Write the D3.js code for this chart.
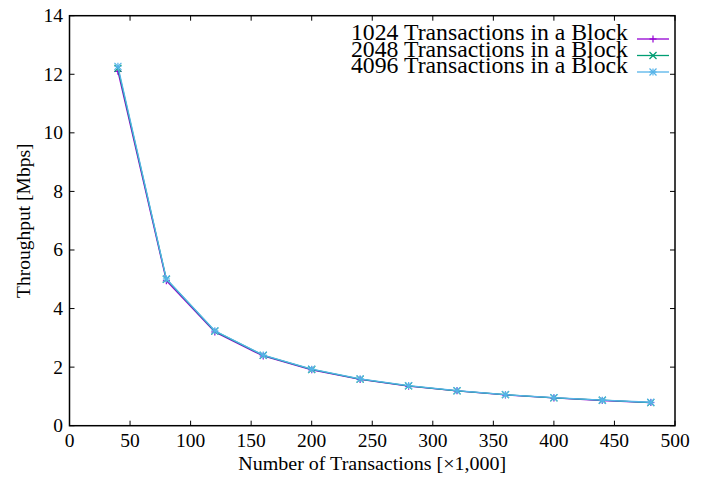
<!DOCTYPE html>
<html>
<head>
<meta charset="utf-8">
<script src="https://cdn.jsdelivr.net/npm/d3@7"></script>
<style>
  html, body { margin: 0; padding: 0; background: #fff; }
  svg { display: block; }
</style>
</head>
<body>
<svg id="chart" width="707" height="477"></svg>
<script>
// Throughput versus number of transactions, one series per block size
const txCounts = [40, 80, 120, 160, 200, 240, 280, 320, 360, 400, 440, 480];
const tput1024 = [12.10, 4.95, 3.20, 2.38, 1.91, 1.58, 1.35, 1.19, 1.05, 0.95, 0.86, 0.79];
const tput2048 = [12.20, 5.00, 3.23, 2.40, 1.92, 1.59, 1.36, 1.19, 1.06, 0.95, 0.87, 0.79];
const tput4096 = [12.27, 5.01, 3.24, 2.41, 1.93, 1.60, 1.37, 1.20, 1.06, 0.96, 0.87, 0.80];
const seriesNames = ["1024 Transactions in a Block", "2048 Transactions in a Block", "4096 Transactions in a Block"];
const seriesColors = ["#9400d3", "#009e73", "#56b4e9"];
const xTicks = [0, 50, 100, 150, 200, 250, 300, 350, 400, 450, 500];
const yTicks = [0, 2, 4, 6, 8, 10, 12, 14];

const series = [tput1024, tput2048, tput4096].map((vals, i) => ({
  name: seriesNames[i], color: seriesColors[i], marker: i,
  points: txCounts.map((x, j) => ({ x, y: vals[j] }))
}));

const FONT = "'Liberation Serif', 'DejaVu Serif', serif";
const plotL = 69.5, plotR = 675, plotT = 15.7, plotB = 425.7;
const svg = d3.select("#chart").attr("font-family", FONT);
const x = d3.scaleLinear().domain([0, 500]).range([plotL, plotR]);
const y = d3.scaleLinear().domain([0, 14]).range([plotB, plotT]);

// inward ticks on all four sides
const tickLen = 5;
const g = svg.append("g");
g.selectAll(".xt").data(xTicks).join("g").each(function(d) {
  const s = d3.select(this);
  s.append("line").attr("x1", x(d)).attr("x2", x(d)).attr("y1", plotB).attr("y2", plotB - tickLen).attr("stroke", "#000");
  s.append("line").attr("x1", x(d)).attr("x2", x(d)).attr("y1", plotT).attr("y2", plotT + tickLen).attr("stroke", "#000");
  s.append("text").attr("x", x(d)).attr("y", 447).attr("text-anchor", "middle").attr("font-size", 19.5).text(d);
});
g.selectAll(".yt").data(yTicks).join("g").each(function(d) {
  const s = d3.select(this);
  s.append("line").attr("x1", plotL).attr("x2", plotL + tickLen).attr("y1", y(d)).attr("y2", y(d)).attr("stroke", "#000");
  s.append("line").attr("x1", plotR).attr("x2", plotR - tickLen).attr("y1", y(d)).attr("y2", y(d)).attr("stroke", "#000");
  s.append("text").attr("x", 63).attr("y", y(d)).attr("dy", "0.33em").attr("text-anchor", "end").attr("font-size", 19.5).text(d);
});

// plot border
svg.append("rect").attr("x", plotL).attr("y", plotT).attr("width", plotR - plotL).attr("height", plotB - plotT)
  .attr("fill", "none").attr("stroke", "#000").attr("stroke-width", 1.5);

// axis titles
svg.append("text").attr("x", (plotL + plotR) / 2).attr("y", 470).attr("text-anchor", "middle")
  .attr("font-size", 19.5).attr("textLength", 268).attr("lengthAdjust", "spacingAndGlyphs")
  .text("Number of Transactions [\u00d71,000]");
svg.append("text").attr("transform", `translate(30,${(plotT + plotB) / 2}) rotate(-90)`)
  .attr("text-anchor", "middle").attr("font-size", 19.5).text("Throughput [Mbps]");

// point markers: plus, cross, asterisk
function marker(sel, type, cx, cy, color) {
  const r = 3.5;
  const segs = [];
  if (type === 0 || type === 2) { segs.push([cx - r, cy, cx + r, cy], [cx, cy - r, cx, cy + r]); }
  if (type === 1 || type === 2) { segs.push([cx - r, cy - r, cx + r, cy + r], [cx - r, cy + r, cx + r, cy - r]); }
  segs.forEach(s => sel.append("line").attr("x1", s[0]).attr("y1", s[1]).attr("x2", s[2]).attr("y2", s[3])
    .attr("stroke", color).attr("stroke-width", 1.2));
}

const line = d3.line().x(d => x(d.x)).y(d => y(d.y));
series.forEach(s => {
  const sg = svg.append("g");
  sg.append("path").datum(s.points).attr("d", line).attr("fill", "none")
    .attr("stroke", s.color).attr("stroke-width", 1.3);
  s.points.forEach(p => marker(sg, s.marker, x(p.x), y(p.y), s.color));
});

// legend: tightly stacked rows, text right-aligned before the sample line
const legY = [40, 56.5, 73];
series.forEach((s, i) => {
  const lg = svg.append("g");
  lg.append("text").attr("x", 628).attr("y", legY[i]).attr("text-anchor", "end").attr("font-size", 22.5)
    .attr("textLength", 277).attr("lengthAdjust", "spacingAndGlyphs").text(s.name);
  lg.append("line").attr("x1", 637).attr("x2", 669).attr("y1", legY[i] - 1).attr("y2", legY[i] - 1)
    .attr("stroke", s.color).attr("stroke-width", 1.3);
  marker(lg, s.marker, 653, legY[i] - 1, s.color);
});
</script>
</body>
</html>
